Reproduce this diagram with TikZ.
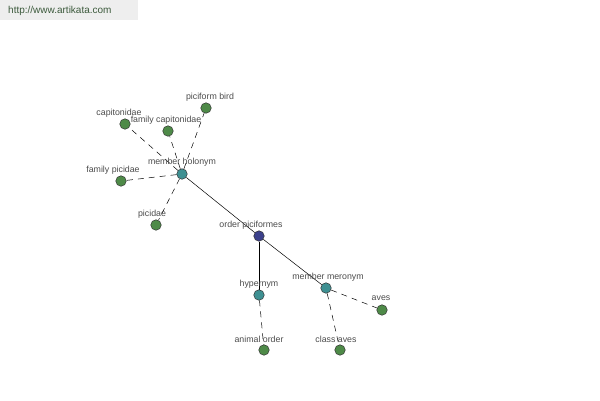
\documentclass[tikz,border=0pt]{standalone}
\usepackage{fontspec}
\setmainfont{Liberation Sans}
\usetikzlibrary{backgrounds}
\begin{document}
\begin{tikzpicture}[x=1pt,y=-1pt,
  dot/.style={circle,draw=black!80,line width=0.5pt,minimum size=10.5pt,inner sep=0pt},
  leaf/.style={dot,fill=leafgreen},
  rel/.style={dot,fill=relteal},
  root/.style={dot,fill=rootblue},
  lbl/.style={font=\fontsize{8.8}{10}\selectfont,text=black!70,inner sep=0pt},
  dashlink/.style={draw=black,line width=0.5pt,dash pattern=on 6pt off 5pt},
  solidlink/.style={draw=black,line width=0.5pt}]
\definecolor{leafgreen}{HTML}{4E8A48}
\definecolor{relteal}{HTML}{3E9092}
\definecolor{rootblue}{HTML}{3C418C}
\definecolor{hdrgray}{HTML}{EEEEEE}
\definecolor{hdrtext}{HTML}{3C5A3C}
\useasboundingbox (0,0) rectangle (600,400);
% nodes
\node[rel] (mh) at (182,174) {};
\node[leaf] (cap) at (125,124) {};
\node[leaf] (fcap) at (168,131) {};
\node[leaf] (pb) at (206,108) {};
\node[leaf] (fp) at (121,181) {};
\node[leaf] (pic) at (156,225) {};
\node[root] (op) at (259,236) {};
\node[rel] (hyp) at (259,295) {};
\node[rel] (mm) at (326,288) {};
\node[leaf] (av) at (382,310) {};
\node[leaf] (ao) at (264,350) {};
\node[leaf] (ca) at (340,350) {};
% edges
\begin{scope}[on background layer]
\fill[white] (0,0) rectangle (600,400);
\node[fill=hdrgray,minimum width=138pt,minimum height=20pt,inner sep=0pt,anchor=north west] (hdr) at (0,0) {};
\path[dashlink] (mh) -- (cap);
\path[dashlink] (mh) -- (fcap);
\path[dashlink] (mh) -- (pb);
\path[dashlink] (mh) -- (fp);
\path[dashlink] (mh) -- (pic);
\path[solidlink] (mh) -- (op);
\path[draw=black,line width=1pt] (op) -- (hyp);
\path[solidlink] (op) -- (mm);
\path[dashlink] (hyp) -- (ao);
\path[dashlink] (mm) -- (ca);
\path[dashlink] (mm) -- (av);
\end{scope}
\node[font=\fontsize{10}{12}\selectfont,text=hdrtext,anchor=west,inner sep=0pt] (url) at (8,11) {http://www.artikata.com};
% labels
\node[lbl] (lmh) at (182,162) {member holonym};
\node[lbl] (lcap) at (119,113) {capitonidae};
\node[lbl] (lfcap) at (166,120) {family capitonidae};
\node[lbl] (lpb) at (210,97) {piciform bird};
\node[lbl] (lfp) at (113,170) {family picidae};
\node[lbl] (lpic) at (152,214) {picidae};
\node[lbl] (lop) at (251,225) {order piciformes};
\node[lbl] (lhyp) at (259,284) {hypernym};
\node[lbl] (lmm) at (328,277) {member meronym};
\node[lbl] (lav) at (381,298) {aves};
\node[lbl] (lao) at (259,339) {animal order};
\node[lbl] (lca) at (336,339) {class aves};
\end{tikzpicture}
\end{document}
